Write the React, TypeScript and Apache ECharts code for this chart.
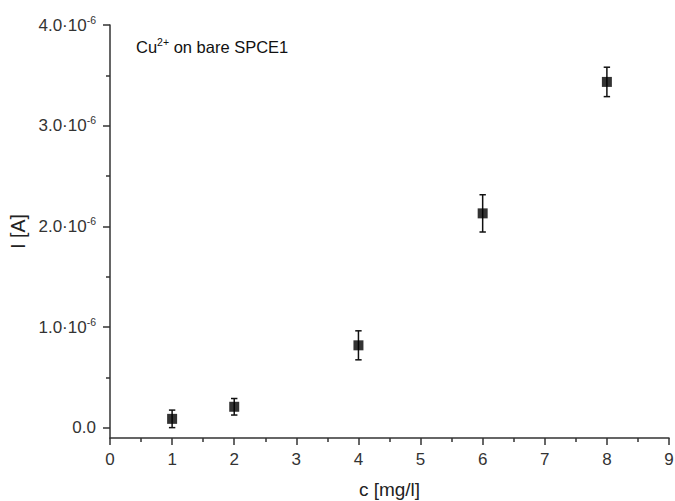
import React, { useEffect, useRef } from "react";
import * as echarts from "echarts";

const concentrations = [1, 2, 4, 6, 8];
const currents = [0.09e-6, 0.21e-6, 0.82e-6, 2.13e-6, 3.435e-6];
const errors = [0.087e-6, 0.082e-6, 0.144e-6, 0.185e-6, 0.146e-6];
const yMajorTicks = [0, 1e-6, 2e-6, 3e-6, 4e-6];
const yMinorTicks = [0.5e-6, 1.5e-6, 2.5e-6, 3.5e-6];
const yTickMantissas: Record<string, string> = {
  "0": "0.0",
  "1": "1.0",
  "2": "2.0",
  "3": "3.0",
  "4": "4.0",
};

const FONT = "'Liberation Sans', Arial, sans-serif";

export default function App() {
  const ref = useRef<HTMLDivElement>(null);
  useEffect(() => {
    if (!ref.current) return;
    const chart = echarts.init(ref.current, undefined, { renderer: "svg" });
    const axisColor = "#333";
    const points = concentrations.map((c, i) => [c, currents[i]]);
    const errData = concentrations.map((c, i) => [c, currents[i] - errors[i], currents[i] + errors[i]]);
    chart.setOption({
      animation: false,
      textStyle: { fontFamily: FONT },
      grid: { left: 110, right: 6, top: 25, bottom: 63, containLabel: false, outerBoundsMode: "none" },
      xAxis: {
        type: "value",
        min: 0,
        max: 9,
        interval: 1,
        name: "c [mg/l]",
        nameLocation: "middle",
        nameGap: 42,
        nameTextStyle: { fontSize: 19, color: "#222", fontFamily: FONT },
        axisLine: { show: true, onZero: false, lineStyle: { color: axisColor, width: 1.5 } },
        axisTick: { show: true, inside: false, length: 7, lineStyle: { color: axisColor, width: 1.5 } },
        minorTick: { show: true, splitNumber: 2, length: 4, lineStyle: { color: axisColor, width: 1.5 } },
        axisLabel: { fontSize: 17, color: "#333", margin: 13, fontFamily: FONT },
        splitLine: { show: false },
      },
      yAxis: [
        {
          type: "value",
          min: -0.1e-6,
          max: 4e-6,
          name: "I [A]",
          nameLocation: "middle",
          nameGap: 77,
          nameTextStyle: { fontSize: 19.5, color: "#222", fontFamily: FONT },
          axisLine: { show: true, onZero: false, lineStyle: { color: axisColor, width: 1.5 } },
          axisTick: { show: true, inside: false, length: 7, lineStyle: { color: axisColor, width: 1.5 }, customValues: yMajorTicks },
          minorTick: { show: false },
          axisLabel: {
            fontSize: 17,
            color: "#333",
            margin: 14,
            fontFamily: FONT,
            customValues: yMajorTicks,
            formatter: (v: number) => {
              const k = String(Math.round(v * 1e6));
              const m = yTickMantissas[k];
              if (k === "0") return "{a|0.0}";
              return "{a|" + m + "·10}{b|-6}";
            },
            rich: {
              a: { fontSize: 17, color: "#333", fontFamily: FONT, lineHeight: 19 },
              b: { fontSize: 10.5, color: "#333", fontFamily: FONT, lineHeight: 19, padding: [0, 0, 11, 0] },
            },
          },
          splitLine: { show: false },
        },
        {
          type: "value",
          position: "left",
          min: -0.1e-6,
          max: 4e-6,
          axisLine: { show: false },
          axisTick: { show: true, inside: false, length: 4, lineStyle: { color: axisColor, width: 1.5 }, customValues: yMinorTicks },
          axisLabel: { show: false },
          splitLine: { show: false },
        },
      ],
      graphic: [
        {
          type: "text",
          left: 136,
          top: 36,
          style: {
            rich: {
              a: { fontSize: 16.5, fill: "#111", fontFamily: FONT, lineHeight: 20 },
              b: { fontSize: 10.5, fill: "#111", fontFamily: FONT, lineHeight: 20, padding: [0, 0, 10, 0] },
            },
            text: "{a|Cu}{b|2+}{a| on bare SPCE1}",
          },
        },
      ],
      series: [
        {
          type: "custom",
          data: errData,
          renderItem: (params: any, api: any) => {
            const x = api.value(0);
            const lo = api.coord([x, api.value(1)]);
            const hi = api.coord([x, api.value(2)]);
            const w = 3.2;
            const style = { stroke: "#111", lineWidth: 1.5 };
            return {
              type: "group",
              children: [
                { type: "line", shape: { x1: lo[0], y1: lo[1], x2: hi[0], y2: hi[1] }, style },
                { type: "line", shape: { x1: lo[0] - w, y1: lo[1], x2: lo[0] + w, y2: lo[1] }, style },
                { type: "line", shape: { x1: hi[0] - w, y1: hi[1], x2: hi[0] + w, y2: hi[1] }, style },
              ],
            };
          },
          z: 1,
        },
        {
          type: "scatter",
          data: points,
          symbol: "rect",
          symbolSize: 10,
          itemStyle: { color: "#000" },
          z: 2,
        },
      ],
    });
    return () => chart.dispose();
  }, []);
  return <div ref={ref} style={{ width: 675, height: 501, position: "absolute", left: 0, top: 0, background: "#fff" }} />;
}
